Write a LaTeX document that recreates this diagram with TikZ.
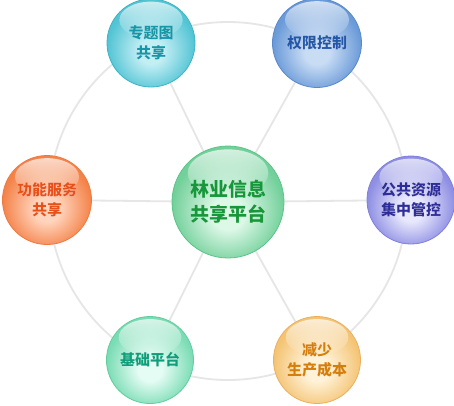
\documentclass[tikz,border=0pt]{standalone}
\usepackage{fontspec}
\usepackage{pdfrender}
\newfontfamily\cjk{Noto Sans CJK SC}
\usetikzlibrary{fadings,backgrounds,calc}
\definecolor{tlI}{HTML}{C2EEF4}\definecolor{tlO}{HTML}{52C4D4}\definecolor{tlB}{HTML}{3FB3C4}\definecolor{tlT}{HTML}{1796A8}
\definecolor{trI}{HTML}{C8DCF4}\definecolor{trO}{HTML}{6A9AD8}\definecolor{trB}{HTML}{5A88CC}\definecolor{trT}{HTML}{2457A8}
\definecolor{rI}{HTML}{E8E8FC}\definecolor{rO}{HTML}{8E8EE4}\definecolor{rB}{HTML}{8080D8}\definecolor{rT}{HTML}{2E2E9A}
\definecolor{lI}{HTML}{FFD4BC}\definecolor{lO}{HTML}{F4834A}\definecolor{lB}{HTML}{EC7A40}\definecolor{lT}{HTML}{E8501A}
\definecolor{blI}{HTML}{E4FCF4}\definecolor{blO}{HTML}{7ADCB4}\definecolor{blB}{HTML}{62CC9E}\definecolor{blT}{HTML}{0E9E7A}
\definecolor{brI}{HTML}{FFF2D8}\definecolor{brO}{HTML}{F4C474}\definecolor{brB}{HTML}{EAB060}\definecolor{brT}{HTML}{D67E0A}
\definecolor{cI}{HTML}{DEF8E8}\definecolor{cO}{HTML}{72D09A}\definecolor{cB}{HTML}{5CC488}\definecolor{cT}{HTML}{16983A}
\definecolor{ringc}{HTML}{E6E6E6}
\colorlet{ci}{white}\colorlet{co}{gray}
\pgfdeclareradialshading[ci,co]{glossy}{\pgfpoint{0bp}{-6bp}}{color(0bp)=(ci); color(7bp)=(ci); color(25bp)=(co); color(50bp)=(co)}
\tikzfading[name=hlfade, top color=transparent!30, bottom color=transparent!100]
\newcommand\halo[2]{\leavevmode
 \rlap{\color{white}\textpdfrender{TextRenderingMode=Stroke,LineWidth=2.4pt,LineJoin=1}{#2}}%
 {\color{#1}#2}}
\begin{document}
\begin{tikzpicture}[x=1pt,y=1pt,
  ball/.style n args={4}{circle,inner sep=0pt,minimum size=#1,draw=#4,line width=0.8pt,
     shading=glossy,/utils/exec={\colorlet{ci}{#2}\colorlet{co}{#3}}},
  lbl/.style={align=center,font=\cjk\bfseries\fontsize{15}{20}\selectfont},
  biglbl/.style={align=center,font=\cjk\bfseries\fontsize{19}{25}\selectfont},
  ringline/.style={draw=ringc,line width=1.8pt}]
\useasboundingbox (0,0) rectangle (454,-405);
% nodes
\node[ball={112pt}{cI}{cO}{cB}] (c) at (228,-202) {};
\node[ball={88pt}{tlI}{tlO}{tlB}] (tl) at (151,-43) {};
\node[ball={89pt}{trI}{trO}{trB}] (tr) at (317,-43) {};
\node[ball={88pt}{rI}{rO}{rB}] (r) at (411,-200) {};
\node[ball={89pt}{lI}{lO}{lB}] (l) at (47,-200) {};
\node[ball={87pt}{blI}{blO}{blB}] (bl) at (150,-360) {};
\node[ball={87pt}{brI}{brO}{brB}] (br) at (317,-360) {};
% highlights
\foreach \n/\rr in {c/56,tl/44,tr/44.5,r/44,l/44.5,bl/43.5,br/43.5}{
  \fill[white,path fading=hlfade] ($(\n)+(0,0.52*\rr)$) ellipse ({0.72*\rr} and {0.42*\rr});
}
% connectors on background
\begin{scope}[on background layer]
\fill[white] (0,0) rectangle (454,-405);
\draw[ringline] (228,-201) circle (179);
\foreach \n in {tl,tr,r,l,bl,br}{\draw[ringline] (c) -- (\n);}
\end{scope}
% labels
\node[biglbl] (tc) at (c) {\halo{cT}{林业信息}\\\halo{cT}{共享平台}};
\node[lbl] (ttl) at (tl) {\halo{tlT}{专题图}\\\halo{tlT}{共享}};
\node[lbl] (ttr) at (tr) {\halo{trT}{权限控制}};
\node[lbl] (tr2) at (r) {\halo{rT}{公共资源}\\\halo{rT}{集中管控}};
\node[lbl] (tl2) at (l) {\halo{lT}{功能服务}\\\halo{lT}{共享}};
\node[lbl] (tbl) at (bl) {\halo{blT}{基础平台}};
\node[lbl] (tbr) at (br) {\halo{brT}{减少}\\\halo{brT}{生产成本}};
\end{tikzpicture}
\end{document}
